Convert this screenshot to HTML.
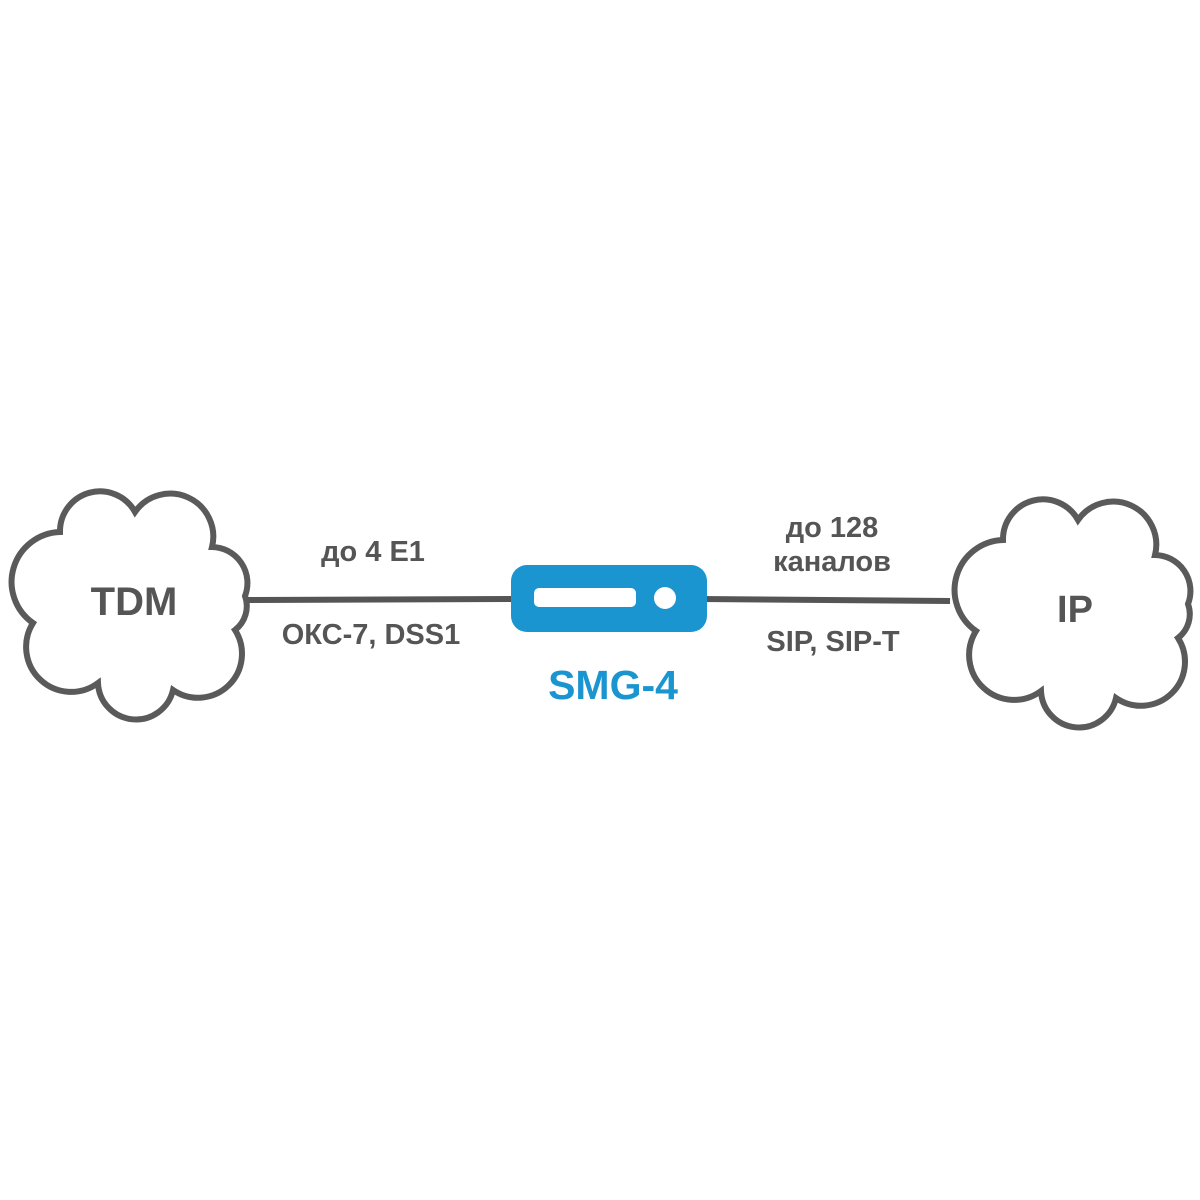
<!DOCTYPE html>
<html><head><meta charset="utf-8"><style>
html,body{margin:0;padding:0;background:#fff;}
svg{display:block}
text{font-family:"Liberation Sans","DejaVu Sans",sans-serif;font-weight:bold;}
</style></head><body>
<svg width="1200" height="1200" viewBox="0 0 1200 1200">
<defs>
<path id="cloud" d="M60,532 A40,40 0 0,1 135,512 A43,43 0 0,1 212,547 A36,36 0 0,1 245,596 A30,30 0 0,1 235,630 A44,44 0 0,1 173,690 A38,38 0 0,1 98,683 A45,45 0 0,1 33,623 A50,50 0 0,1 60,532 Z" fill="#fff" stroke="#5a5a5a" stroke-width="6"/>
</defs>
<line x1="245" y1="600" x2="515" y2="599" stroke="#555" stroke-width="6"/>
<line x1="700" y1="599" x2="950" y2="601" stroke="#555" stroke-width="6"/>
<use href="#cloud"/>
<use href="#cloud" transform="translate(943,8)"/>
<rect x="511" y="565" width="196" height="67" rx="16" fill="#1a95d0"/>
<rect x="534" y="588" width="102" height="19" rx="5" fill="#fff"/>
<circle cx="665" cy="598" r="11" fill="#fff"/>
<g fill="#555">
<text x="134" y="615" font-size="40" text-anchor="middle">TDM</text>
<text x="1075" y="622" font-size="38" text-anchor="middle">IP</text>
<text x="373" y="561" font-size="29" text-anchor="middle">до 4 E1</text>
<text x="371" y="644" font-size="29" text-anchor="middle">ОКС-7, DSS1</text>
<text x="832" y="537" font-size="29" text-anchor="middle">до 128</text>
<text x="832" y="571" font-size="29" text-anchor="middle">каналов</text>
<text x="833" y="651" font-size="29" text-anchor="middle">SIP, SIP-T</text>
</g>
<text x="613" y="699" font-size="41" text-anchor="middle" fill="#1a95d0">SMG-4</text>
</svg>
</body></html>
